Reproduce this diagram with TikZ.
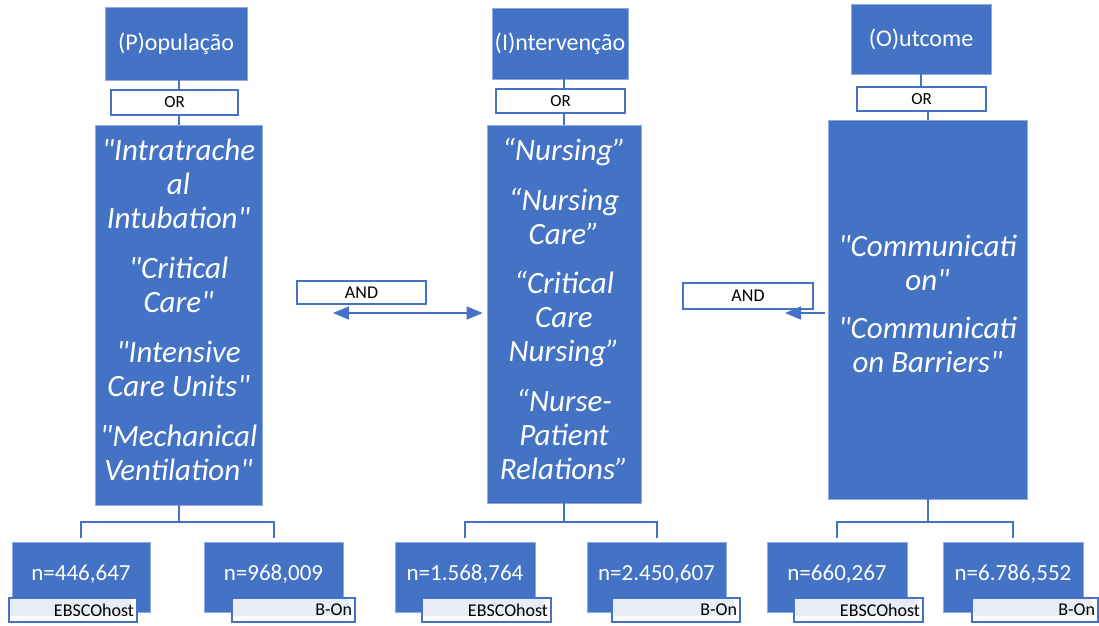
\documentclass[tikz,border=0pt]{standalone}
\usepackage{fontspec}
\setmainfont{Carlito}[Ligatures=TeXOff]
\usetikzlibrary{arrows.meta}
\definecolor{pblue}{HTML}{4472C4}
\definecolor{pedge}{HTML}{8FAADC}
\definecolor{lfill}{HTML}{E9ECF5}
\begin{document}
\begin{tikzpicture}[x=1pt,y=-1pt,
  hbox/.style={fill=pblue, draw=pedge, line width=0.6pt, text=white, inner sep=0pt,
    font=\fontsize{24}{28}\selectfont},
  mbox/.style={fill=pblue, draw=pedge, line width=0.6pt, inner sep=0pt},
  mtext/.style={text=white, align=center, inner sep=0pt,
    font=\fontsize{31}{34}\selectfont\itshape},
  orbox/.style={fill=white, draw=pblue, line width=1.6pt, inner sep=0pt,
    font=\fontsize{17}{19}\selectfont},
  andbox/.style={fill=white, draw=pblue, line width=1.6pt, inner sep=0pt,
    font=\fontsize{18}{20}\selectfont},
  nbox/.style={fill=pblue, draw=pedge, line width=0.6pt, text=white, inner xsep=0pt,
    inner ysep=0pt, text height=38pt, text depth=32pt,
    font=\fontsize{23}{26}\selectfont},
  lbl/.style={draw=pblue, line width=1.5pt, fill=white, align=right,
    inner xsep=3pt, inner ysep=0pt, minimum height=24pt,
    font=\fontsize{18}{20}\selectfont,
    path picture={\fill[lfill] ([xshift=1pt,yshift=-1pt]path picture bounding box.north west)
      rectangle ([xshift=-6pt,yshift=6pt]path picture bounding box.south east);}},
  conn/.style={draw=pblue, line width=2pt},
  arr/.style={draw=pblue, line width=1.5pt},
  tip/.tip={Triangle[length=16pt,width=13pt]}
]
\useasboundingbox (0,0) rectangle (1099,625);

% ---------------- Population column ----------------
\node[hbox, minimum width=142pt, minimum height=73pt] (hP) at (176,43.5) {(P)opulação};
\node[mbox, minimum width=167pt, minimum height=380pt] (mP) at (178.5,315) {};
\draw[conn] (mP.north) -- (mP.north |- hP.south);
\node[orbox, minimum width=127pt, minimum height=25pt] (orP) at (174.5,102.5) {OR};
\node[mtext] (tP) at (178.5,309.5) {"Intratrache\\al\\Intubation"\\[16pt]"Critical\\Care"\\[16pt]"Intensive\\Care Units"\\[16pt]"Mechanical\\Ventilation"};

\node[nbox, minimum width=138pt] (nP1) at (81,577) {n=446,647};
\node[nbox, minimum width=139pt] (nP2) at (273.5,577) {n=968,009};
\draw[conn] (mP.south) -- ++(0,17) -| ([yshift=4pt]nP1.north);
\draw[conn] (mP.south) -- ++(0,17) -| ([yshift=4pt]nP2.north);
\node[lbl, text width=122pt] (lP1) at (73,610) {EBSCOhost};
\node[lbl, text width=117pt] (lP2) at (293.5,610) {B-On};

% ---------------- Intervention column ----------------
\node[hbox, minimum width=136pt, minimum height=71pt] (hI) at (560,43.5) {(I)ntervenção};
\node[mbox, minimum width=154pt, minimum height=378pt] (mI) at (564,314) {};
\draw[conn] (mI.north) -- (mI.north |- hI.south);
\node[orbox, minimum width=129pt, minimum height=24pt] (orI) at (560.5,101) {OR};
\node[mtext] (tI) at (564,308.5) {“Nursing”\\[16pt]“Nursing\\Care”\\[15pt]“Critical\\Care\\Nursing”\\[16pt]“Nurse-\\Patient\\Relations”};

\node[nbox, minimum width=140pt] (nI1) at (465,577) {n=1.568,764};
\node[nbox, minimum width=139pt] (nI2) at (656.5,577) {n=2.450,607};
\draw[conn] (mI.south) -- ++(0,19) -| ([yshift=4pt]nI1.north);
\draw[conn] (mI.south) -- ++(0,19) -| ([yshift=4pt]nI2.north);
\node[lbl, text width=123pt] (lI1) at (486.5,610) {EBSCOhost};
\node[lbl, text width=122pt] (lI2) at (676,610) {B-On};

% ---------------- Outcome column ----------------
\node[hbox, minimum width=140pt, minimum height=70pt] (hO) at (921,39) {(O)utcome};
\node[mbox, minimum width=199pt, minimum height=379pt] (mO) at (927.5,309.5) {};
\draw[conn] (hO.south) -- ++(0,13);
\draw[conn] (mO.north) -- ++(0,-12);
\node[orbox, minimum width=129pt, minimum height=24pt] (orO) at (921.5,99) {OR};
\node[mtext] (tO) at (927.5,304) {"Communicati\\on"\\[14pt]"Communicati\\on Barriers"};

\node[nbox, minimum width=140pt] (nO1) at (837,577) {n=660,267};
\node[nbox, minimum width=140pt] (nO2) at (1013,577) {n=6.786,552};
\draw[conn] (mO.south) -- ++(0,23) -| ([yshift=4pt]nO1.north);
\draw[conn] (mO.south) -- ++(0,23) -| ([yshift=4pt]nO2.north);
\node[lbl, text width=123pt] (lO1) at (858.5,610) {EBSCOhost};
\node[lbl, text width=120pt] (lO2) at (1035,610) {B-On};

% ---------------- AND connectors ----------------
\node[andbox, minimum width=129pt, minimum height=23pt] (and1) at (361.5,292.5) {AND};
\coordinate (a1) at (333,313);
\draw[arr, {tip}-{tip}, shorten >=4pt] (a1) -- (a1 -| mI.west);

\node[andbox, minimum width=130pt, minimum height=26pt] (and2) at (748,296) {AND};
\coordinate (a2) at (785,313);
\draw[arr, -{tip}, shorten <=3pt] (a2 -| mO.west) -- (a2);
\end{tikzpicture}
\end{document}
